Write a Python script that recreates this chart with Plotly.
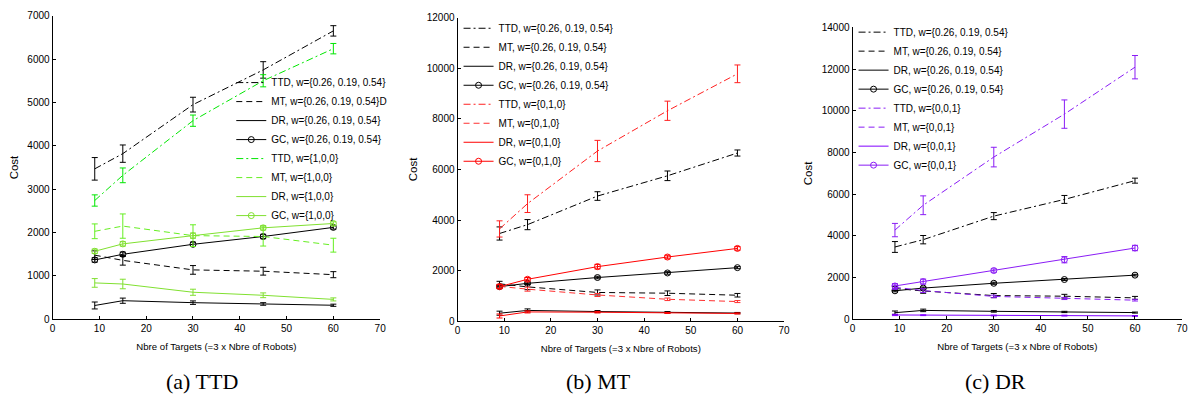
import plotly.graph_objects as go

W, H = 1198, 402

x = [9, 15, 30, 45, 60]

# shared reference weights w={0.26, 0.19, 0.54}
ttd_k = [3470, 3820, 4950, 5750, 6650]
ttd_k_err = [260, 200, 170, 190, 120]
mt_k = [1480, 1360, 1140, 1110, 1030]
mt_k_err = [100, 110, 100, 90, 70]
dr_k = [320, 430, 385, 355, 325]
dr_k_err = [80, 60, 40, 30, 25]
gc_k = [1370, 1500, 1730, 1910, 2120]
gc_k_err = [50, 50, 50, 50, 40]

# w={1,0,0}
ttd_g = [2740, 3320, 4580, 5500, 6240]
ttd_g_err = [130, 170, 130, 140, 120]
mt_g = [2030, 2150, 1930, 1910, 1710]
mt_g_err = [170, 280, 250, 220, 160]
dr_g = [840, 815, 625, 555, 460]
dr_g_err = [100, 110, 70, 55, 35]
gc_g = [1570, 1740, 1930, 2110, 2210]
gc_g_err = [50, 50, 60, 50, 40]

# w={0,1,0}
ttd_r = [3650, 4650, 6730, 8320, 9780]
ttd_r_err = [320, 350, 420, 380, 350]
mt_r = [1380, 1270, 1040, 870, 780]
mt_r_err = [80, 80, 60, 50, 40]
dr_r = [210, 370, 360, 330, 310]
dr_r_err = [80, 40, 30, 20, 20]
gc_r = [1370, 1660, 2160, 2540, 2880]
gc_r_err = [80, 70, 90, 70, 70]

# w={0,0,1}
ttd_p = [4280, 5470, 7780, 9840, 12090]
ttd_p_err = [320, 450, 470, 680, 560]
mt_p = [1540, 1380, 1100, 1000, 920]
mt_p_err = [100, 90, 60, 50, 40]
dr_p = [210, 200, 185, 180, 165]
dr_p_err = [30, 20, 20, 20, 20]
gc_p = [1600, 1810, 2340, 2860, 3420]
gc_p_err = [110, 120, 80, 150, 130]

ref_label = "w={0.26, 0.19, 0.54}"
captions = ["(a) TTD", "(b) MT", "(c) DR"]
x_title = "Nbre of Targets (=3 x Nbre of Robots)"
y_title = "Cost"

DASH_TTD = "7px,3px,2px,3px"
DASH_MT = "6px,4px"

fig = go.Figure()

def add_group(axis_idx, legend_name, vals, names, colors):
    xa = "x" if axis_idx == 1 else f"x{axis_idx}"
    ya = "y" if axis_idx == 1 else f"y{axis_idx}"
    dashes = [DASH_TTD, DASH_MT, "solid", "solid"]
    for i, ((y, e), name) in enumerate(zip(vals, names)):
        gc = i == 3
        fig.add_trace(go.Scatter(
            x=x, y=y, name=name, xaxis=xa, yaxis=ya, legend=legend_name,
            mode="lines+markers" if gc else "lines",
            line=dict(color=colors[i], width=1, dash=dashes[i]),
            marker=dict(symbol="circle-open", size=6, color=colors[i], line=dict(width=1)),
            error_y=dict(type="data", array=e, visible=True, color=colors[i], thickness=1, width=3),
        ))

black = ["#000000"] * 4
green = ["#00e600", "#66ee22", "#80e030", "#80e030"]
red = ["#ff2020", "#ff3030", "#ff0000", "#ff0000"]
purple = ["#8a1cf5", "#8a1cf5", "#8000ff", "#8a1cf5"]

ref_vals = [(ttd_k, ttd_k_err), (mt_k, mt_k_err), (dr_k, dr_k_err), (gc_k, gc_k_err)]
ref_names_a = ["TTD, " + ref_label, "MT, " + ref_label + "D", "DR, " + ref_label, "GC, " + ref_label]
ref_names = ["TTD, " + ref_label, "MT, " + ref_label, "DR, " + ref_label, "GC, " + ref_label]

# panel a
add_group(1, "legend", ref_vals, ref_names_a, black)
add_group(1, "legend", [(ttd_g, ttd_g_err), (mt_g, mt_g_err), (dr_g, dr_g_err), (gc_g, gc_g_err)],
          ["TTD, w={1,0,0}", "MT, w={1,0,0}", "DR, w={1,0,0}", "GC, w={1,0,0}"], green)
# panel b
add_group(2, "legend2", ref_vals, ref_names, black)
add_group(2, "legend2", [(ttd_r, ttd_r_err), (mt_r, mt_r_err), (dr_r, dr_r_err), (gc_r, gc_r_err)],
          ["TTD, w={0,1,0}", "MT, w={0,1,0}", "DR, w={0,1,0}", "GC, w={0,1,0}"], red)
# panel c
add_group(3, "legend3", ref_vals, ref_names, black)
add_group(3, "legend3", [(ttd_p, ttd_p_err), (mt_p, mt_p_err), (dr_p, dr_p_err), (gc_p, gc_p_err)],
          ["TTD, w={0,0,1}", "MT, w={0,0,1}", "DR, w={0,0,1}", "GC, w={0,0,1}"], purple)

def px_x(a, b):
    return [a / W, b / W]

def px_y(top, bottom):
    return [(H - bottom) / H, (H - top) / H]

font = dict(family="Liberation Sans", size=10, color="#000")
xtitle_font = dict(family="Liberation Sans", size=9.6, color="#000")
ytitle_font = dict(family="Liberation Sans", size=11.5, color="#000")

axis_common = dict(showline=True, linecolor="#000", linewidth=1, mirror=False,
                   ticks="inside", ticklen=3, tickcolor="#000", showgrid=False,
                   zeroline=False, tickfont=font, tickformat="d")

panels = [
    dict(xd=px_x(50, 380), yd=px_y(10, 323), ymax=7000, dy=1000),
    dict(xd=px_x(458, 787), yd=px_y(12, 325), ymax=12000, dy=2000),
    dict(xd=px_x(856, 1188), yd=px_y(22, 323), ymax=14000, dy=2000),
]

layout = dict(width=W, height=H, margin=dict(l=0, r=0, t=0, b=0),
              paper_bgcolor="white", plot_bgcolor="white", font=font, showlegend=True)

for i, p in enumerate(panels, start=1):
    sfx = "" if i == 1 else str(i)
    layout["xaxis" + sfx] = dict(axis_common, domain=p["xd"], range=[0, 70], dtick=10, tick0=0,
                                 anchor="y" + sfx, title=dict(text=x_title, font=xtitle_font, standoff=9))
    layout["yaxis" + sfx] = dict(axis_common, domain=p["yd"], range=[0, p["ymax"]], dtick=p["dy"], tick0=0,
                                 anchor="x" + sfx, title=dict(text=y_title, font=ytitle_font, standoff=6))

leg_common = dict(bgcolor="rgba(0,0,0,0)", borderwidth=0, font=font, itemwidth=30,
                  xanchor="left", yanchor="top", tracegroupgap=0)
layout["legend"] = dict(leg_common, x=230 / W, y=(H - 64) / H)
layout["legend2"] = dict(leg_common, x=459 / W, y=(H - 8) / H)
layout["legend3"] = dict(leg_common, x=857 / W, y=(H - 12) / H)

fig.update_layout(**layout)

cap_x = [201, 600, 1000]
for cx, text in zip(cap_x, captions):
    fig.add_annotation(x=cx / W, y=(H - 387) / H, xref="paper", yref="paper", text=text,
                       showarrow=False, font=dict(family="Liberation Serif", size=22, color="#000"),
                       xanchor="center", yanchor="middle")

fig.write_html("out.html")
